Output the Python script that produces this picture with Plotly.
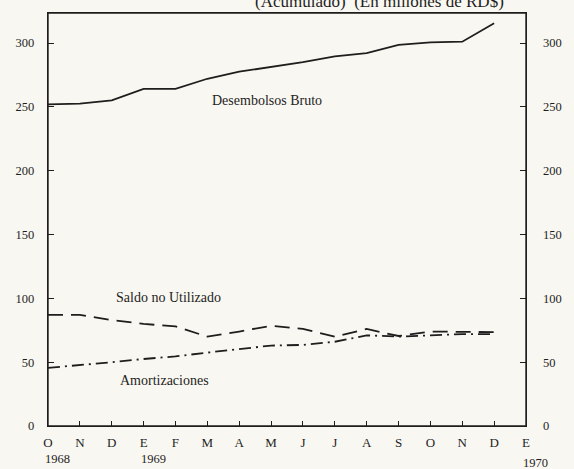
import plotly.graph_objects as go

months = ["O", "N", "D", "E", "F", "M", "A", "M", "J", "J", "A", "S", "O", "N", "D", "E"]
years = ["1968", "1969", "1970"]
year_pos = [0, 3, 15]

desembolsos = [252, 252.5, 255, 264, 264, 272, 277.5, 281, 285, 289.5, 292, 298.5, 300.5, 301, 315.5]
saldo = [87, 87, 83, 80, 78, 70, 74, 78.5, 76, 70, 76, 70.5, 74, 73.5, 73.5]
amortiz = [45.5, 47.5, 50, 52.5, 54.5, 57.5, 60.5, 63, 63.5, 66, 71, 70, 71, 72, 72]
yticks = [0, 50, 100, 150, 200, 250, 300]

x = list(range(len(desembolsos)))
FONT = "Liberation Serif"
BG = "#f9f7f1"
INK = "#1e1e1e"
XMAX = len(months) - 1

fig = go.Figure()
fig.add_trace(go.Scatter(x=x, y=desembolsos, mode="lines",
                         line=dict(color=INK, width=1.8), hoverinfo="skip"))
fig.add_trace(go.Scatter(x=x, y=saldo, mode="lines",
                         line=dict(color=INK, width=1.8, dash="15px,8px"), hoverinfo="skip"))
fig.add_trace(go.Scatter(x=x, y=amortiz, mode="lines",
                         line=dict(color=INK, width=1.8, dash="12px,5px,2px,5px"), hoverinfo="skip"))
# companion trace for the right-hand axis
fig.add_trace(go.Scatter(x=x, y=desembolsos, mode="lines", yaxis="y2",
                         line=dict(color="rgba(0,0,0,0)", width=0), hoverinfo="skip"))

fig.update_layout(
    width=574, height=469,
    margin=dict(l=48, r=45, t=12, b=43),
    paper_bgcolor=BG, plot_bgcolor=BG,
    showlegend=False,
    font=dict(family=FONT, color=INK, size=13),
    xaxis=dict(range=[0, XMAX], tickmode="array", tickvals=list(range(len(months))),
               ticktext=months, ticks="inside", ticklen=5, tickwidth=1.2, tickcolor=INK,
               showline=True, linecolor=INK, linewidth=1.4, mirror=True,
               showgrid=False, zeroline=False, ticklabelstandoff=4,
               tickfont=dict(family=FONT, size=13, color=INK)),
    yaxis=dict(range=[0, 323.5], tickmode="array", tickvals=yticks,
               ticks="inside", ticklen=6, tickwidth=1.2, tickcolor=INK,
               showline=True, linecolor=INK, linewidth=1.4, mirror=True,
               showgrid=False, zeroline=False, ticklabelstandoff=10,
               tickfont=dict(family=FONT, size=12.5, color=INK)),
    yaxis2=dict(range=[0, 323.5], tickmode="array", tickvals=yticks, overlaying="y",
                side="right", ticks="inside", ticklen=6, tickwidth=1.2, tickcolor=INK,
                showline=False, showgrid=False, zeroline=False, ticklabelstandoff=16,
                tickfont=dict(family=FONT, size=12.5, color=INK)),
)

# plot frame
fig.add_shape(type="rect", xref="paper", yref="paper", x0=0, y0=0, x1=1, y1=1,
              line=dict(color=INK, width=1.4), layer="above")

for yr, pos in zip(years, year_pos):
    fig.add_annotation(x=(pos + 0.3) / XMAX, xref="paper",
                       y=-0.08 if yr != "1970" else -0.09, yref="paper",
                       text=yr, showarrow=False, font=dict(family=FONT, size=12.5, color=INK),
                       xanchor="center", yanchor="middle")

fig.add_annotation(x=6.86, y=255, xref="x", yref="y", text="Desembolsos Bruto", showarrow=False,
                   font=dict(family=FONT, size=14, color=INK), xanchor="center", yanchor="middle")
fig.add_annotation(x=3.77, y=101, xref="x", yref="y", text="Saldo no Utilizado", showarrow=False,
                   font=dict(family=FONT, size=14, color=INK), xanchor="center", yanchor="middle")
fig.add_annotation(x=3.65, y=35.5, xref="x", yref="y", text="Amortizaciones", showarrow=False,
                   font=dict(family=FONT, size=14, color=INK), xanchor="center", yanchor="middle")
fig.add_annotation(x=0.693, y=1.027, xref="paper", yref="paper",
                   text="(Acumulado)  (En millones de RD$)", showarrow=False,
                   font=dict(family=FONT, size=17, color=INK), xanchor="center", yanchor="middle")

fig.write_html("out.html", config={"displayModeBar": False},
               post_script="document.body.style.margin='0';")
